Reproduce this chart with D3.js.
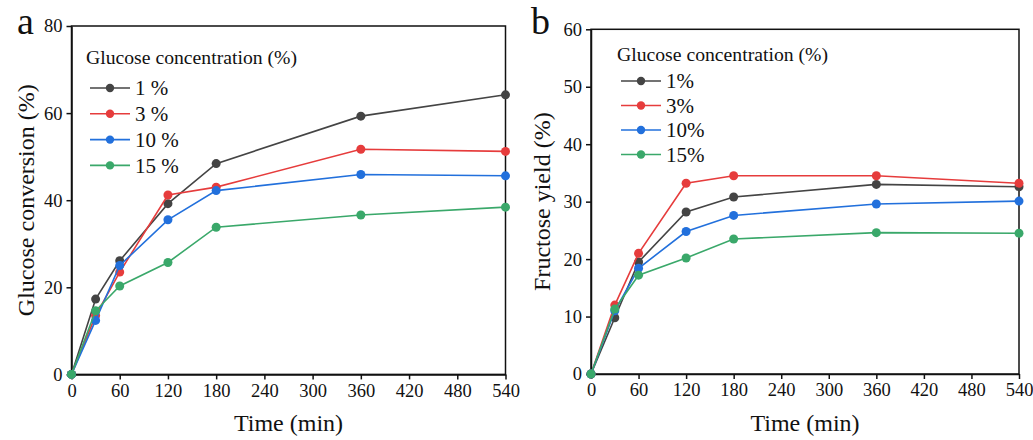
<html>
  <head>
    <meta charset="utf-8">
    <title>Glucose conversion and fructose yield</title>
    <style>
      body { margin: 0; background: white; }
      svg text { font-family: "Liberation Serif", "Times New Roman", serif; fill: #111; }
      .axis path, .axis line { stroke: #111; stroke-width: 1.5; }
      .frame { fill: none; stroke: #111; stroke-width: 1.5; }
    </style>
    <script src="https://d3js.org/d3.v7.min.js"></script>
  </head>
  <body>
    <svg id="chart"></svg>
    <script>
      // data
      const times = [0, 30, 60, 120, 180, 360, 540];
      const xTicks = [0, 60, 120, 180, 240, 300, 360, 420, 480, 540];
      const seriesColors = ['#444444', '#e63c3c', '#2270dc', '#3aa86a'];

      const labelsA = ['1 %', '3 %', '10 %', '15 %'];
      const conv1 = [0, 17.3, 26.1, 39.2, 48.4, 59.3, 64.2];
      const conv3 = [0, 13.5, 23.5, 41.2, 43.0, 51.7, 51.2];
      const conv10 = [0, 12.4, 25.0, 35.5, 42.2, 45.9, 45.6];
      const conv15 = [0, 14.6, 20.3, 25.7, 33.8, 36.6, 38.4];
      const yTicksA = [0, 20, 40, 60, 80];

      const labelsB = ['1%', '3%', '10%', '15%'];
      const yield1 = [0, 9.8, 19.5, 28.2, 30.8, 33.0, 32.6];
      const yield3 = [0, 12.0, 21.0, 33.2, 34.5, 34.5, 33.2];
      const yield10 = [0, 11.0, 18.4, 24.8, 27.6, 29.6, 30.1];
      const yield15 = [0, 11.3, 17.2, 20.2, 23.5, 24.6, 24.5];
      const yTicksB = [0, 10, 20, 30, 40, 50, 60];

      const svg = d3.select('#chart').attr('width', 1033).attr('height', 440);

      function drawPanel(opt) {
        const g = svg.append('g');
        const x = d3.scaleLinear().domain([0, 540]).range([opt.left, opt.right]);
        const y = d3.scaleLinear().domain([0, opt.yMax]).range([opt.bottom, opt.top]);

        // box
        g.append('rect').attr('class', 'frame')
          .attr('x', opt.left).attr('y', opt.top)
          .attr('width', opt.right - opt.left).attr('height', opt.bottom - opt.top);

        const xAxis = g.append('g').attr('class', 'axis')
          .attr('transform', `translate(0,${opt.bottom})`)
          .call(d3.axisBottom(x).tickValues(xTicks).tickSize(5).tickSizeOuter(0).tickPadding(4));
        xAxis.selectAll('text').style('font-size', '18.5px');

        const yAxis = g.append('g').attr('class', 'axis')
          .attr('transform', `translate(${opt.left},0)`)
          .call(d3.axisLeft(y).tickValues(opt.yTicks).tickSize(5).tickSizeOuter(0).tickPadding(4));
        yAxis.selectAll('text').style('font-size', '18.5px');

        // axis titles
        g.append('text')
          .attr('x', (opt.left + opt.right) / 2)
          .attr('y', 431)
          .attr('text-anchor', 'middle')
          .style('font-size', '24px')
          .text('Time (min)');
        g.append('text')
          .attr('transform', `translate(${opt.yTitleX},${(opt.top + opt.bottom) / 2}) rotate(-90)`)
          .attr('text-anchor', 'middle')
          .attr('dy', '0.35em')
          .style('font-size', '24px')
          .text(opt.yTitle);

        // panel letter
        g.append('text')
          .attr('x', opt.letterX).attr('y', 34)
          .style('font-size', '38px')
          .text(opt.letter);

        const line = d3.line().x((d, i) => x(times[i])).y(d => y(d));
        opt.series.forEach((vals, k) => {
          g.append('path')
            .attr('d', line(vals))
            .attr('fill', 'none')
            .attr('stroke', seriesColors[k])
            .attr('stroke-width', 1.6);
          g.selectAll(null).data(vals).enter().append('circle')
            .attr('cx', (d, i) => x(times[i]))
            .attr('cy', d => y(d))
            .attr('r', 4.5)
            .attr('fill', seriesColors[k]);
        });

        // legend
        const lg = g.append('g');
        lg.append('text')
          .attr('x', opt.legX - 2).attr('y', opt.legTitleY)
          .attr('dy', '0.35em')
          .style('font-size', '19.7px')
          .text('Glucose concentration (%)');
        opt.labels.forEach((lab, k) => {
          const yy = opt.legY0 + k * opt.legStep;
          lg.append('line')
            .attr('x1', opt.legX + 2).attr('x2', opt.legX + 42)
            .attr('y1', yy).attr('y2', yy)
            .attr('stroke', seriesColors[k]).attr('stroke-width', 1.6);
          lg.append('circle')
            .attr('cx', opt.legX + 22).attr('cy', yy).attr('r', 4.2)
            .attr('fill', seriesColors[k]);
          lg.append('text')
            .attr('x', opt.legX + 47).attr('y', yy)
            .attr('dy', '0.35em')
            .style('font-size', '21px')
            .text(lab);
        });
      }

      drawPanel({
        left: 71.5, right: 505.5, top: 26, bottom: 374.4, yMax: 80,
        yTicks: yTicksA, yTitle: 'Glucose conversion (%)', yTitleX: 26,
        letter: 'a', letterX: 17,
        series: [conv1, conv3, conv10, conv15], labels: labelsA,
        legX: 88, legTitleY: 57, legY0: 88, legStep: 25.8
      });

      drawPanel({
        left: 591, right: 1019, top: 29.3, bottom: 374, yMax: 60,
        yTicks: yTicksB, yTitle: 'Fructose yield (%)', yTitleX: 542,
        letter: 'b', letterX: 531,
        series: [yield1, yield3, yield10, yield15], labels: labelsB,
        legX: 619, legTitleY: 54, legY0: 81, legStep: 24.5
      });
    </script>
  </body>
</html>
